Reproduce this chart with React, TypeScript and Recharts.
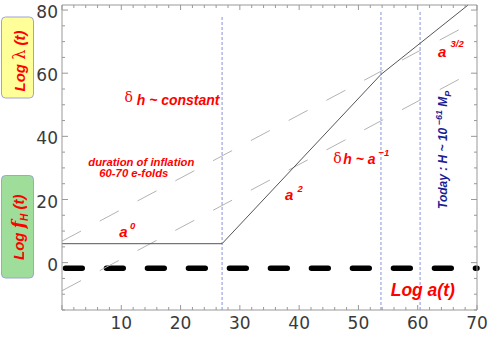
import React from 'react';
import { ComposedChart, Line, XAxis, YAxis, ReferenceLine } from 'recharts';

const W = 491;
const H = 338;

// solid curve: flat, then ~a^2, then ~a^3/2
const curveX = [0, 27, 53.8, 68.5];
const curveY = [6, 6, 59.6, 81.6];
// the two slope-1 dashed wavelengths
const modeX = [0, 70];
const modeUpperY = [6.8, 76.8];
const modeLowerY = [-8.9, 61.1];
// thick black dashed level
const levelY = -1.8;
// vertical dotted markers
const markerX = [27, 53.8, 60.4];
const markerTop = [78, 79.6, 79.6];

const xTicks = [10, 20, 30, 40, 50, 60, 70];
const yTicks = [0, 20, 40, 60, 80];
const xMarks = Array.from({ length: 36 }, (_, i) => i * 2);
const yMarks = Array.from({ length: 20 }, (_, i) => -15 + i * 5);

const X_DOMAIN: [number, number] = [0, 70];
const Y_DOMAIN: [number, number] = [-15, 81.6];

const pts = (xs: number[], ys: number[]) => xs.map((x, i) => ({ x, y: ys[i] }));

const RED = '#ff0000';
const NAVY = '#1c1c94';
const FRAME = '#999';
const sans = 'Liberation Sans, Arial, sans-serif';
const serif = 'DejaVu Serif, serif';

// frame ticks point inward, long on majors, short on minors
const makeTick = (side: 'left' | 'right' | 'top' | 'bottom') => (props: any) => {
  const { x, y, payload } = props;
  const v = payload.value;
  if (side === 'left' || side === 'right') {
    const len = v % 20 === 0 ? 6 : 3;
    const dir = side === 'left' ? 1 : -1;
    return (
      <g>
        <line x1={x} y1={y} x2={x + dir * len} y2={y} stroke={FRAME} />
        {side === 'left' && yTicks.includes(v) && (
          <text x={x - 4} y={y + 2} dy="0.355em" textAnchor="end" fontSize={17} fill="#3a3a3a" fontFamily="DejaVu Sans">{v}</text>
        )}
      </g>
    );
  }
  const len = v % 10 === 0 ? 5 : 3;
  const dir = side === 'bottom' ? -1 : 1;
  return (
    <g>
      <line x1={x} y1={y} x2={x} y2={y + dir * len} stroke={FRAME} />
      {side === 'bottom' && xTicks.includes(v) && (
        <text x={x} y={y + 7} dy="0.71em" textAnchor="middle" fontSize={17} fill="#3a3a3a" fontFamily="DejaVu Sans">{v}</text>
      )}
    </g>
  );
};

export default function App() {
  return (
    <div style={{ position: 'absolute', left: 0, top: 0, width: W, height: H, background: '#fff' }}>
      <ComposedChart width={W} height={H} margin={{ top: 4, right: 13, bottom: 27, left: 61 }}>
        <XAxis type="number" dataKey="x" domain={X_DOMAIN} allowDataOverflow ticks={xMarks} interval={0}
          height={1} tickSize={0} tickMargin={0} tickLine={false} axisLine={{ stroke: FRAME }} tick={makeTick('bottom')} />
        <XAxis xAxisId="top" orientation="top" type="number" dataKey="x" domain={X_DOMAIN} allowDataOverflow ticks={xMarks} interval={0}
          height={1} tickSize={0} tickMargin={0} tickLine={false} axisLine={{ stroke: FRAME }} tick={makeTick('top')} />
        <YAxis type="number" domain={Y_DOMAIN} allowDataOverflow ticks={yMarks} interval={0}
          width={1} tickSize={0} tickMargin={0} tickLine={false} axisLine={{ stroke: FRAME }} tick={makeTick('left')} />
        <YAxis yAxisId="right" orientation="right" type="number" domain={Y_DOMAIN} allowDataOverflow ticks={yMarks} interval={0}
          width={1} tickSize={0} tickMargin={0} tickLine={false} axisLine={{ stroke: FRAME }} tick={makeTick('right')} />

        <ReferenceLine y={levelY} stroke="#000" strokeWidth={5.5} strokeLinecap="round"
          strokeDasharray="16.8 24.2" strokeDashoffset={-3.45} />
        {markerX.map((x, i) => (
          <ReferenceLine key={x} segment={[{ x, y: Y_DOMAIN[0] }, { x, y: markerTop[i] }]}
            stroke="#8593dd" strokeWidth={1} strokeDasharray="3 2" />
        ))}

        <Line data={pts(modeX, modeUpperY)} dataKey="y" type="linear" stroke="#b3b3b3" strokeWidth={1}
          strokeDasharray="21.5 21.3" dot={false} activeDot={false} isAnimationActive={false} />
        <Line data={pts(modeX, modeLowerY)} dataKey="y" type="linear" stroke="#b3b3b3" strokeWidth={1}
          strokeDasharray="21.5 21.3" dot={false} activeDot={false} isAnimationActive={false} />
        <Line data={pts(curveX, curveY)} dataKey="y" type="linear" stroke="#555" strokeWidth={1}
          dot={false} activeDot={false} isAnimationActive={false} />
      </ComposedChart>

      <svg width={W} height={H} style={{ position: 'absolute', left: 0, top: 0, pointerEvents: 'none' }}
        fontFamily={sans} fontWeight={700} fontStyle="italic">
        {/* axis badges */}
        <rect x={1.5} y={17} width={32} height={81} rx={4} fill="#ffff99" stroke="#9fa3d6" />
        <text transform="translate(24.5,91.5) rotate(-90)" fill={RED} fontSize={15}>
          Log <tspan fontFamily={serif} fontWeight={400} fontStyle="normal" fontSize={16}>λ</tspan> (t)
        </text>
        <rect x={1.5} y={175.5} width={32} height={102.5} rx={4} fill="#9edd9a" stroke="#9fa3d6" />
        <text transform="translate(24,260) rotate(-90)" fill={RED} fontSize={15}>
          Log <tspan fontFamily={serif} fontSize={17}>f</tspan>
          <tspan fontSize={10} dy={4}>H</tspan>
          <tspan dy={-4}>  (t)</tspan>
        </text>

        {/* annotations */}
        <text x={124.5} y={102} fill={RED} fontFamily={serif} fontWeight={400} fontStyle="normal" fontSize={14}>δ</text>
        <text x={136.7} y={104.5} fill={RED} fontSize={14}>h ~ constant</text>

        <text x={88.3} y={166} fill={RED} fontSize={11.3}>duration of inflation</text>
        <text x={99.3} y={177} fill={RED} fontSize={11.3}>60-70 e-folds</text>

        <text x={119.3} y={236.5} fill={RED} fontSize={15}>a</text>
        <text x={130} y={229} fill={RED} fontSize={9.5}>0</text>

        <text x={285} y={200} fill={RED} fontSize={15}>a</text>
        <text x={297.5} y={192} fill={RED} fontSize={9.5}>2</text>

        <text x={333.3} y={162.5} fill={RED} fontFamily={serif} fontWeight={400} fontStyle="normal" fontSize={14}>δ</text>
        <text x={343.3} y={164} fill={RED} fontSize={14}>h ~ a</text>
        <text x={378.5} y={155.5} fill={RED} fontSize={9.5}>−1</text>

        <text x={438} y={56.5} fill={RED} fontSize={15}>a</text>
        <text x={450.5} y={46.7} fill={RED} fontSize={9.5}>3/2</text>

        <text transform="translate(447,209) rotate(-90)" fill={NAVY} fontSize={12}>
          Today : H ~ 10<tspan fontSize={9} dy={-5}> −61</tspan>
          <tspan dy={5}>  M</tspan>
          <tspan fontSize={9} dy={4}>P</tspan>
        </text>

        <text x={390.7} y={296} fill={RED} fontSize={17.5}>Log a(t)</text>
      </svg>
    </div>
  );
}
